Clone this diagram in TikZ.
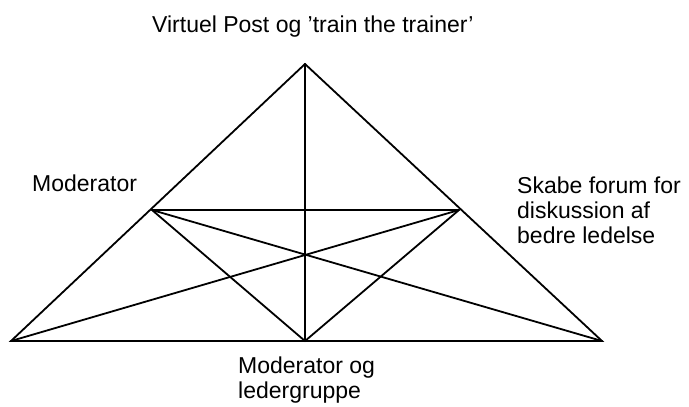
\documentclass[tikz,border=0pt]{standalone}
\usepackage{fontspec}
\setmainfont{Liberation Sans}
\begin{document}
\begin{tikzpicture}[x=1pt,y=-1pt,
  edge/.style={draw=black,line width=1.8pt,line cap=round},
  lbl/.style={inner sep=0pt,align=left,font=\fontsize{23}{25}\selectfont}]
\useasboundingbox (0,0) rectangle (689,407);
% corners of the big triangle and the side midpoints
\coordinate (A) at (305,64);
\coordinate (L) at (11,341);
\coordinate (R) at (602,341);
\coordinate (B) at (305,341);
\coordinate (LM) at (152,210);
\coordinate (RM) at (459,210);
% outer triangle
\draw[edge,line join=miter] (L) -- (A) -- (R) -- cycle;
% inner lines
\draw[edge] (A) -- (B);
\draw[edge] (LM) -- (RM);
\draw[edge] (LM) -- (B) -- (RM);
\draw[edge] (L) -- (RM);
\draw[edge] (R) -- (LM);
% labels
\node[lbl,anchor=base west] (top) at (152,32) {Virtuel Post og ’train the trainer’};
\node[lbl,anchor=base west] (left) at (32,191) {Moderator};
\node[lbl,anchor=north west] (right) at (517,177) {Skabe forum for\\diskussion af\\bedre ledelse};
\node[lbl,anchor=north west] (bottom) at (238,357) {Moderator og\\ledergruppe};
\end{tikzpicture}
\end{document}
